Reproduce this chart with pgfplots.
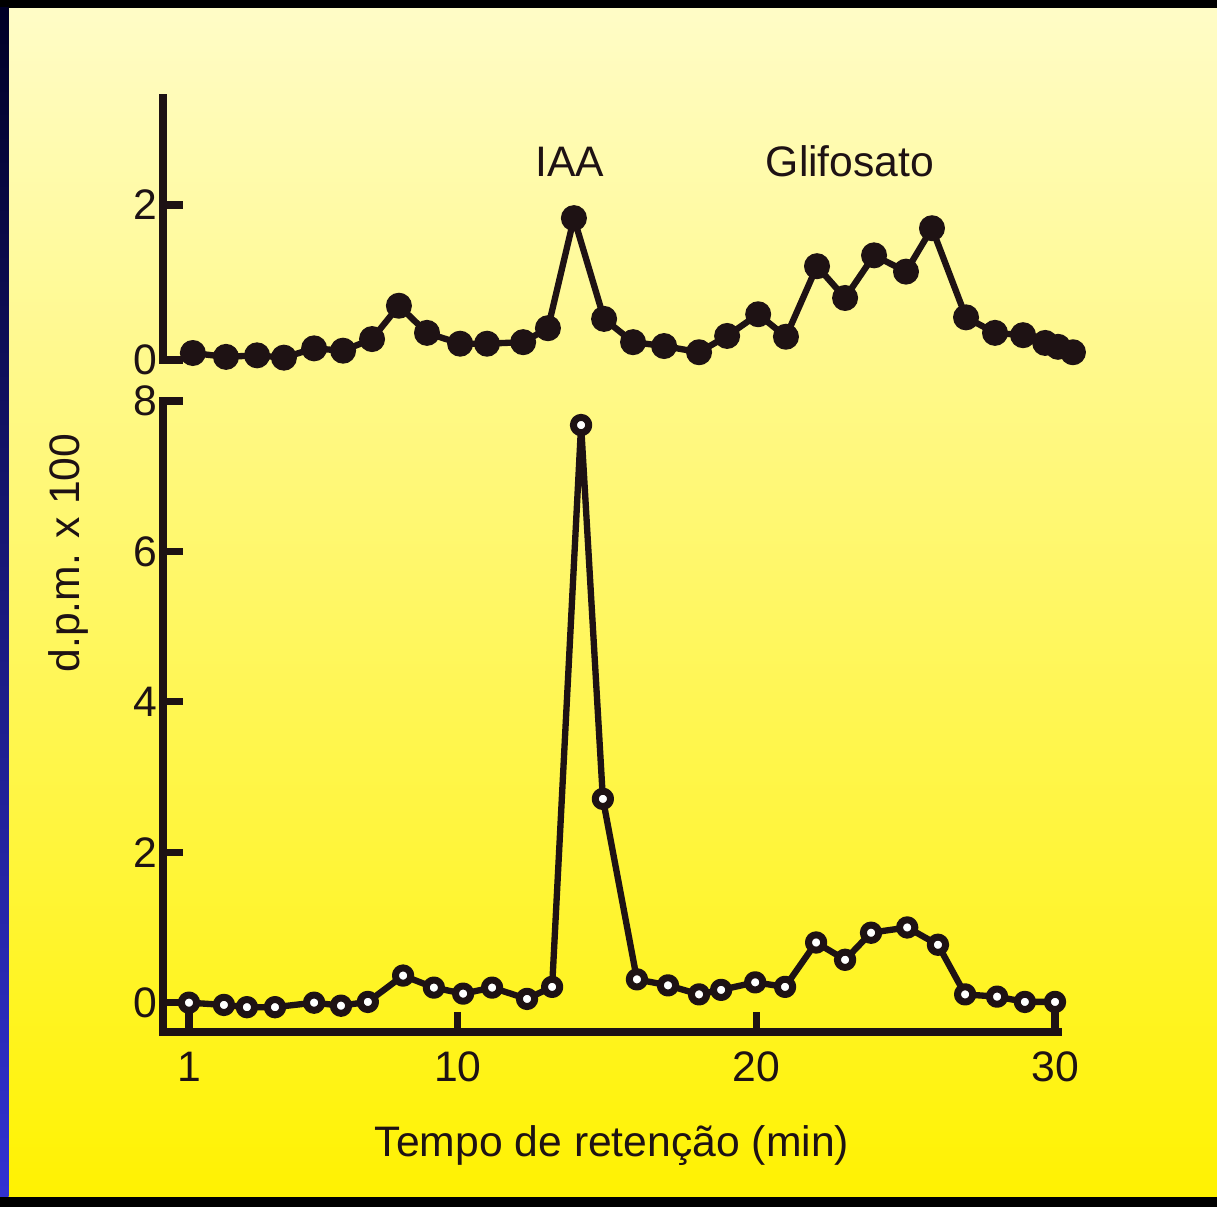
\documentclass[border=0pt]{standalone}
\usepackage{pgfplots}
\pgfplotsset{compat=1.18}
\usepackage{fontspec}
\setmainfont{Liberation Sans}

\definecolor{ink}{HTML}{1E1214}
\definecolor{bgtop}{HTML}{FFFCC8}
\definecolor{bgmid}{HTML}{FCF27E}
\definecolor{bgbot}{HTML}{FFF200}
\newcommand\lbl{\fontsize{12.8bp}{15bp}\selectfont}

% 1 px of the reference = 0.3bp
\pgfplotsset{
  panel/.style={
    scale only axis, width=268.5bp,
    xmin=0.13, xmax=30.1,
    clip=false,
    tick align=inside, major tick length=6bp,
    every tick/.style={ink, line width=2.2bp},
    axis line style={ink, line width=2.2bp, line cap=rect},
    tick label style={font=\lbl, text=ink},
    xticklabel style={yshift=-2.4bp},
    yticklabel style={xshift=1.8bp},
    /pgf/number format/assume math mode=true,
  },
  serie/.style={ink, line width=1.9bp, line join=round},
}

\begin{document}
\begin{tikzpicture}
\shade[top color=bgtop, middle color=bgmid, bottom color=bgbot] (0,0) rectangle (365.1bp,362.1bp);
\fill[black] (0,359.7bp) rectangle (365.1bp,362.1bp);
\fill[black] (0,0) rectangle (365.1bp,3.0bp);
\shade[top color=black!85!blue, bottom color={rgb,255:red,50;green,50;blue,210}] (0,3.0bp) rectangle (2.6bp,359.7bp);

% lower panel (open circles)
\begin{axis}[panel, at={(48.9bp,52.5bp)}, anchor=south west,
    height=189.3bp, ymin=-0.39, ymax=8,
    axis x line*=bottom, axis y line*=left,
    xtick={1,10,20,30}, ytick={0,2,4,6,8}]
\addplot[serie, mark=*, mark size=2.3bp,
    mark options={fill=white, draw=ink, line width=2.1bp}] coordinates {
  (1.00,0.00) (2.17,-0.03) (2.94,-0.06) (3.88,-0.06) (5.19,0.00)
  (6.09,-0.04) (6.99,0.01) (8.17,0.36) (9.20,0.20) (10.18,0.12)
  (11.15,0.20) (12.32,0.05) (13.16,0.21) (14.13,7.68) (14.86,2.71)
  (16.00,0.31) (17.04,0.23) (18.08,0.11) (18.82,0.17) (19.96,0.27)
  (20.96,0.21) (22.00,0.80) (22.97,0.57) (23.84,0.93) (25.05,1.00)
  (26.08,0.77) (26.99,0.11) (28.06,0.08) (28.99,0.01) (30.00,0.01)
};
\end{axis}

% upper panel (filled circles)
\begin{axis}[panel, at={(48.9bp,254.1bp)}, anchor=south west,
    height=78.6bp, ymin=0, ymax=3.38,
    axis x line=none, axis y line*=left,
    xtick=\empty, ytick={0,2}]
\addplot[serie, mark=*, mark size=3.7bp,
    mark options={fill=ink, draw=ink, line width=0.4bp}] coordinates {
  (1.13,0.09) (2.24,0.04) (3.28,0.06) (4.18,0.03) (5.19,0.15)
  (6.16,0.12) (7.13,0.27) (8.03,0.70) (8.97,0.35) (10.08,0.21)
  (10.98,0.21) (12.19,0.23) (13.02,0.41) (13.89,1.83) (14.90,0.53)
  (15.87,0.23) (16.91,0.18) (18.08,0.10) (19.02,0.31) (20.06,0.59)
  (20.99,0.30) (22.03,1.21) (22.97,0.80) (23.94,1.35) (25.01,1.14)
  (25.88,1.70) (27.02,0.55) (27.99,0.35) (28.93,0.32) (29.67,0.22)
  (30.10,0.17) (30.60,0.10)
};
\end{axis}

\node[anchor=base, font=\lbl, text=ink] at (171bp,309bp) {IAA};
\node[anchor=base, font=\lbl, text=ink] at (255bp,309bp) {Glifosato};
\node[anchor=base, font=\lbl, text=ink] at (183.6bp,15.3bp) {Tempo de retenção (min)};
\node[rotate=90, font=\lbl, text=ink] at (20.4bp,196.2bp) {d.p.m. x 100};

\pgfresetboundingbox
\path (0,0) rectangle (365.1bp,362.1bp);
\end{tikzpicture}
\end{document}
